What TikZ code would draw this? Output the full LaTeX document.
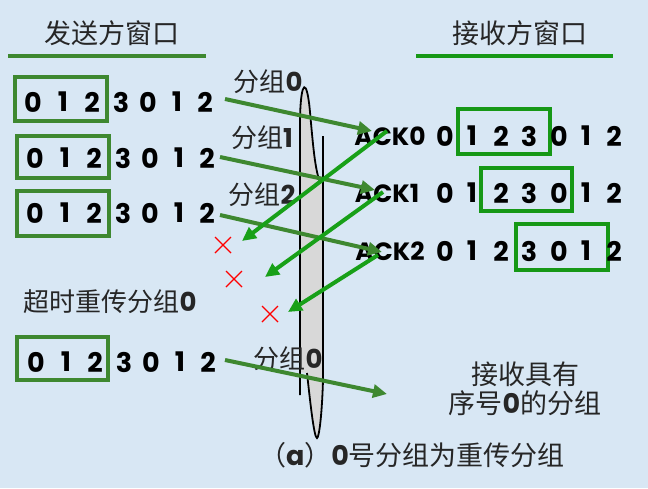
\documentclass[tikz,border=0pt]{standalone}
\usepackage{fontspec}
\usetikzlibrary{arrows.meta}
\newfontfamily\dig{Poppins}
\newfontfamily\cjk{Noto Sans CJK SC}
\definecolor{bgc}{RGB}{216,231,244}
\definecolor{sgreen}{RGB}{62,136,48}
\definecolor{rgreen}{RGB}{22,152,22}
\definecolor{agreen}{RGB}{24,160,24}
\definecolor{bandgray}{RGB}{216,216,216}
\tikzset{
  dg/.style={font=\dig\bfseries\fontsize{27}{27}\selectfont, inner sep=0pt, text=black},
  cj/.style={font=\cjk\fontsize{26}{26}\selectfont, inner sep=0pt, text=black!85},
  sbox/.style={draw=sgreen, line width=4pt, inner sep=0pt},
  rbox/.style={draw=rgreen, line width=4pt, inner sep=0pt},
  sarrow/.style={draw=sgreen, line width=4pt, -{Triangle[length=14pt,width=13pt]}},
  aarrow/.style={draw=agreen, line width=4pt, -{Triangle[length=14pt,width=13pt]}},
  xmark/.style={draw=red, line width=1.2pt},
  uline/.style={line width=4pt},
}
\begin{document}
\begin{tikzpicture}[x=1pt,y=-1pt]
\fill[bgc] (0,0) rectangle (648,488);
\useasboundingbox (0,0) rectangle (648,488);

% titles
\node[cj, font=\cjk\fontsize{27}{27}\selectfont] (tsend) at (112,33) {发送方窗口};
\node[cj, font=\cjk\fontsize{27}{27}\selectfont] (trecv) at (520,33) {接收方窗口};
\draw[uline, draw=sgreen] (8,56) -- (206,56);
\draw[uline, draw=rgreen] (416,56) -- (613,56);

% middle band
\fill[bandgray] (300,372) -- (300,118) .. controls (301,78) and (307,78) .. (310,112)
  .. controls (313,145) and (315,170) .. (320,180) -- (323,180) -- (323,380)
  .. controls (322,415) and (319,438) .. (317,438) .. controls (314,438) and (310,400) .. (307,373) -- cycle;
\draw[line width=1.8pt] (300,395) -- (300,118) .. controls (301,78) and (307,78) .. (310,112)
  .. controls (313,145) and (315,170) .. (320,182);
\draw[line width=1.8pt] (323,136) -- (323,380) .. controls (322,415) and (319,438) .. (317,438)
  .. controls (314,438) and (310,400) .. (307,373);

% sender boxes
\node[sbox, minimum width=92pt, minimum height=44pt] (sb1) at (61,99) {};
\node[sbox, minimum width=92pt, minimum height=42pt] (sb2) at (63,156.5) {};
\node[sbox, minimum width=92pt, minimum height=45pt] (sb3) at (63,213.5) {};
\node[sbox, minimum width=91pt, minimum height=43pt] (sb4) at (62.5,358.5) {};

% sender digits
\foreach \r/\xo/\yy in {1/33/102, 2/35/158, 3/35/213, 4/36/362}{
  \foreach \d/\dx [count=\k] in {0/0, 1/30, 2/59, 3/88, 0/115, 1/144, 2/172}{
    \node[dg] (s\r d\k) at (\xo+\dx,\yy) {\d};
  }
}

% receiver boxes
\node[rbox, minimum width=92pt, minimum height=45pt] (rb1) at (504,131.5) {};
\node[rbox, minimum width=91pt, minimum height=43pt] (rb2) at (526.5,189.5) {};
\node[rbox, minimum width=92pt, minimum height=46pt] (rb3) at (562,247) {};

% receiver rows
\node[dg, font=\dig\bfseries\fontsize{25}{25}\selectfont] (ack0) at (390,136) {ACK0};
\node[dg, font=\dig\bfseries\fontsize{25}{25}\selectfont] (ack1) at (387,193) {ACK1};
\node[dg, font=\dig\bfseries\fontsize{25}{25}\selectfont] (ack2) at (390,251) {ACK2};
\foreach \r/\yy in {1/136, 2/193, 3/251}{
  \foreach \d/\xx [count=\k] in {0/445, 1/472, 2/501, 3/529, 0/559, 1/586, 2/614}{
    \node[dg] (r\r d\k) at (\xx,\yy) {\d};
  }
}

% labels
\node[cj] (g0) at (268,82) {分组{\dig\bfseries 0}};
\node[cj] (g1) at (262,138) {分组{\dig\bfseries 1}};
\node[cj] (g2) at (262,195) {分组{\dig\bfseries 2}};
\node[cj] (g3) at (288,359) {分组{\dig\bfseries 0}};
\node[cj] (tout) at (110,302) {超时重传分组{\dig\bfseries 0}};
\node[cj, font=\cjk\fontsize{27}{27}\selectfont, align=center] (recv) at (525,389) {接收具有\\[2pt]序号{\dig\bfseries 0}的分组};
\node[cj, font=\cjk\fontsize{27}{27}\selectfont] (cap) at (412,455) {（{\dig\bfseries a}）{\dig\bfseries 0}号分组为重传分组};

% arrow endpoints
\coordinate (a1s) at (225,99);  \coordinate (a1e) at (372,131);
\coordinate (a2s) at (220,157); \coordinate (a2e) at (375,190);
\coordinate (a3s) at (220,215); \coordinate (a3e) at (382,252);
\coordinate (a4s) at (225,360); \coordinate (a4e) at (387,394);
\coordinate (b1s) at (387,131); \coordinate (b1e) at (242,241);
\coordinate (b2s) at (383,192); \coordinate (b2e) at (265,277);
\coordinate (b3s) at (378,255); \coordinate (b3e) at (288,312);

\draw[sarrow] (a1s) -- (a1e);
\draw[sarrow] (a2s) -- (a2e);
\draw[sarrow] (a3s) -- (a3e);
\draw[sarrow] (a4s) -- (a4e);
\draw[aarrow] (b1s) -- (b1e);
\draw[aarrow] (b2s) -- (b2e);
\draw[aarrow] (b3s) -- (b3e);

% red crosses
\foreach \cx/\cy [count=\k] in {223/245, 234/279, 270/314}{
  \coordinate (x\k) at (\cx,\cy);
  \draw[xmark] ([shift={(-8,-8)}]x\k) -- ([shift={(8,8)}]x\k);
  \draw[xmark] ([shift={(-8,8)}]x\k) -- ([shift={(8,-8)}]x\k);
}
\end{tikzpicture}
\end{document}
